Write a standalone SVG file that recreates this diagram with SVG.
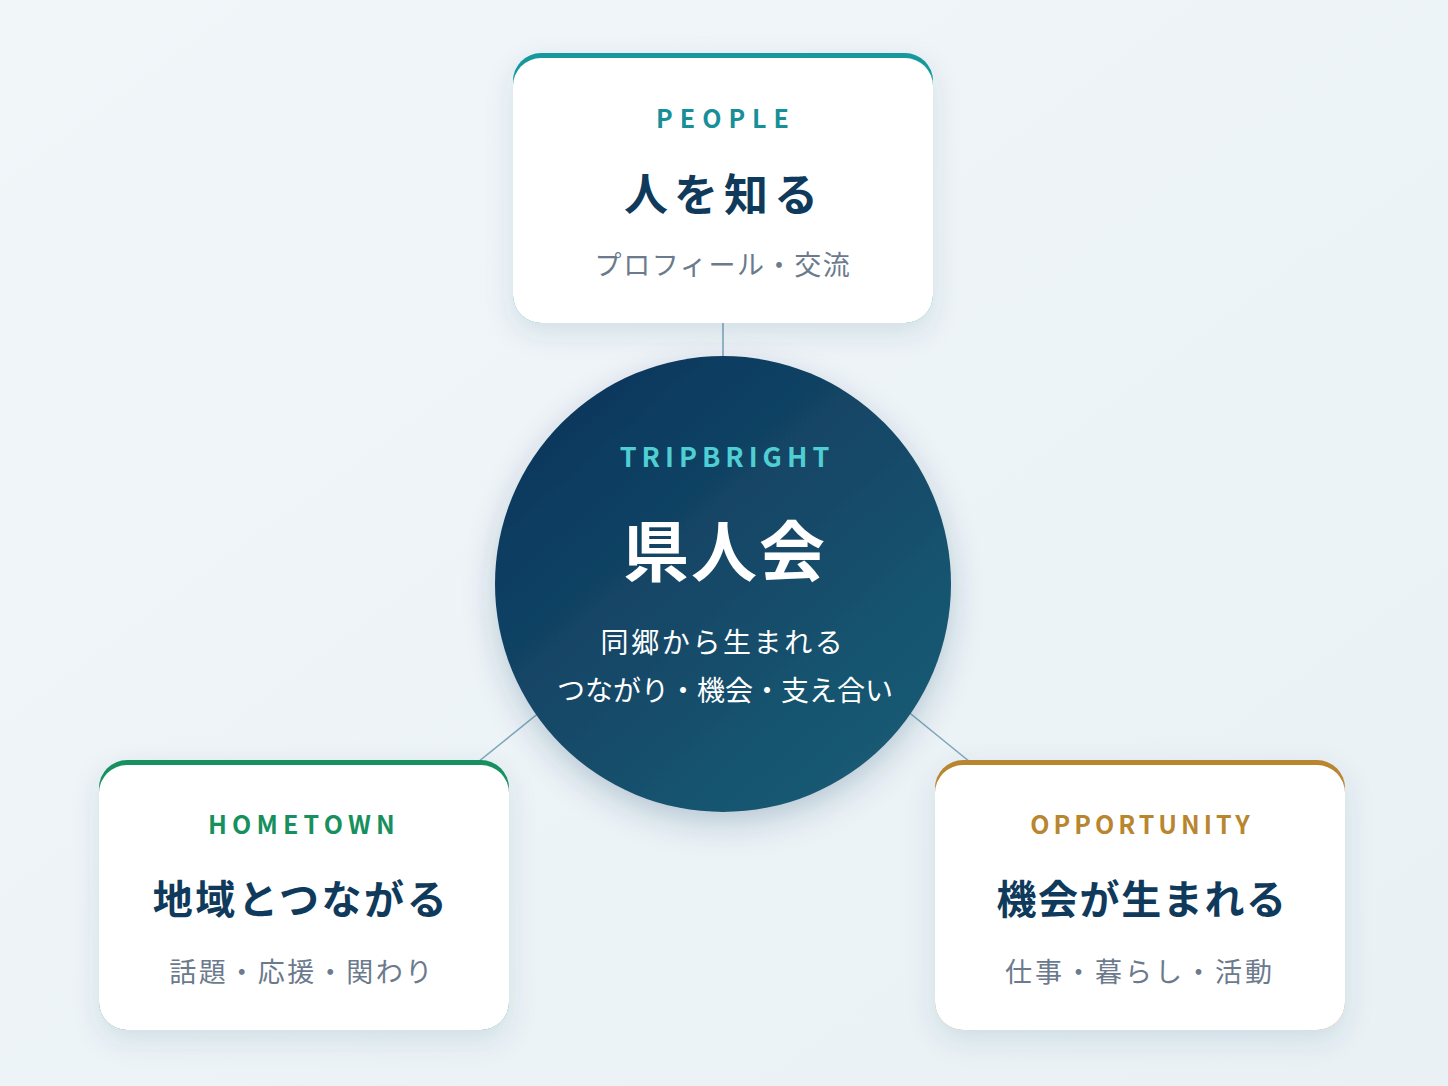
<svg xmlns="http://www.w3.org/2000/svg" width="1448" height="1086" viewBox="0 0 1448 1086">
<defs>
<linearGradient id="bg" x1="0" y1="0" x2="1" y2="1">
<stop offset="0" stop-color="#f1f6f9"/><stop offset="1" stop-color="#e9f1f5"/>
</linearGradient>
<linearGradient id="hub" x1="0.15" y1="0.1" x2="0.85" y2="0.9">
<stop offset="0" stop-color="#0d375c"/><stop offset="1" stop-color="#1a5b74"/>
</linearGradient>
<filter id="sh" x="-20%" y="-20%" width="140%" height="150%">
<feDropShadow dx="0" dy="10" stdDeviation="14" flood-color="#1d4a66" flood-opacity="0.12"/>
</filter>
<filter id="shc" x="-20%" y="-20%" width="140%" height="150%">
<feDropShadow dx="0" dy="12" stdDeviation="16" flood-color="#0d375c" flood-opacity="0.22"/>
</filter>
<style>
.lbl{font-family:"Noto Sans CJK JP","Noto Sans",sans-serif;font-weight:700;text-anchor:middle}
.ttl{font-family:"Noto Sans CJK JP",sans-serif;font-weight:700;text-anchor:middle;fill:#103a5c}
.sub{font-family:"Noto Sans CJK JP",sans-serif;font-weight:400;text-anchor:middle;fill:#6b7a8c}
.wh{font-family:"Noto Sans CJK JP",sans-serif;fill:#ffffff;text-anchor:middle}
.con{stroke:#7ea7ba;stroke-width:1.6;fill:none}
.card{fill:#ffffff}
</style>
</defs>
<rect width="1448" height="1086" fill="url(#bg)"/>
<g id="connectors">
<line class="con" x1="723" y1="323" x2="723" y2="358"/>
<line class="con" x1="478" y1="762" x2="540" y2="712"/>
<line class="con" x1="970" y1="762" x2="906" y2="710"/>
</g>
<g id="people">
<g filter="url(#sh)">
<rect x="513" y="53" width="420" height="270" rx="28" fill="#14989c"/>
<rect class="card" x="513" y="58" width="420" height="265" rx="28"/>
</g>
<text class="lbl" x="726" y="128" font-size="25" letter-spacing="7" fill="#178f99">PEOPLE</text>
<text class="ttl" x="724" y="211" font-size="44" letter-spacing="6">人を知る</text>
<text class="sub" x="723" y="275" font-size="27" letter-spacing="1.6">プロフィール・交流</text>
</g>
<g id="hub">
<circle cx="723" cy="584" r="228" fill="url(#hub)" filter="url(#shc)"/>
<text class="lbl" x="727" y="467" font-size="27" letter-spacing="5" fill="#4fcfd3">TRIPBRIGHT</text>
<text class="wh" x="725" y="576" font-size="66" font-weight="700" letter-spacing="2">県人会</text>
<text class="wh" x="723" y="653" font-size="28" letter-spacing="2.6">同郷から生まれる</text>
<text class="wh" x="725" y="701" font-size="28">つながり・機会・支え合い</text>
</g>
<g id="hometown">
<g filter="url(#sh)">
<rect x="99" y="760" width="410" height="270" rx="28" fill="#17905e"/>
<rect class="card" x="99" y="765" width="410" height="265" rx="28"/>
</g>
<text class="lbl" x="304" y="834" font-size="25" letter-spacing="5.2" fill="#17905e">HOMETOWN</text>
<text class="ttl" x="301" y="914" font-size="40" letter-spacing="2.6">地域とつながる</text>
<text class="sub" x="302" y="982" font-size="27" letter-spacing="2.5">話題・応援・関わり</text>
</g>
<g id="opportunity">
<g filter="url(#sh)">
<rect x="935" y="760" width="410" height="270" rx="28" fill="#b8862e"/>
<rect class="card" x="935" y="765" width="410" height="265" rx="28"/>
</g>
<text class="lbl" x="1142" y="834" font-size="25" letter-spacing="4" fill="#b8862e">OPPORTUNITY</text>
<text class="ttl" x="1142" y="914" font-size="40" letter-spacing="1.6">機会が生まれる</text>
<text class="sub" x="1140" y="982" font-size="27" letter-spacing="3">仕事・暮らし・活動</text>
</g>
</svg>
